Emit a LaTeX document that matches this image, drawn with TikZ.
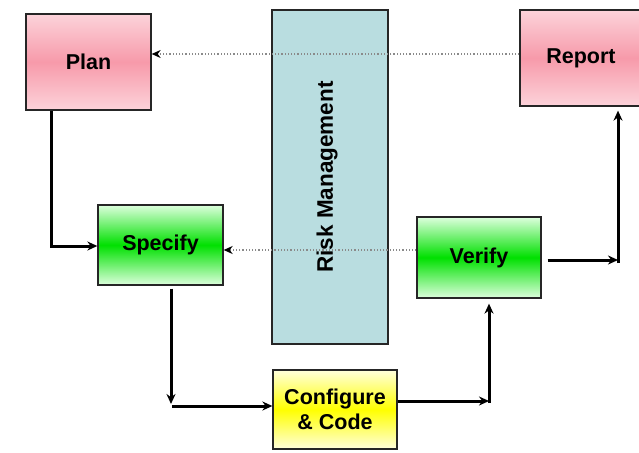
\documentclass[tikz,border=0pt]{standalone}
\usepackage{fontspec}
\setmainfont{Liberation Sans}
\usetikzlibrary{arrows.meta}
\definecolor{pinkedge}{HTML}{FCD3DA}
\definecolor{pinkmid}{HTML}{F79AAA}
\definecolor{greenedge}{HTML}{DDFFDD}
\definecolor{greenmid}{HTML}{00E000}
\definecolor{yellowedge}{HTML}{FFFFDC}
\definecolor{yellowmid}{HTML}{FFFF00}
\definecolor{riskfill}{HTML}{B9DDE0}
\definecolor{dotgrey}{HTML}{8A8A8A}
\tikzset{
  box/.style={draw=black!85, line width=1.3pt, inner sep=0pt, align=center,
    font=\fontsize{21.5}{25}\selectfont\bfseries},
  pinkbox/.style={box, top color=pinkedge, bottom color=pinkedge, middle color=pinkmid},
  greenbox/.style={box, top color=greenedge, bottom color=greenedge, middle color=greenmid},
  yellowbox/.style={box, top color=yellowedge, bottom color=yellowedge, middle color=yellowmid},
  flow/.style={line width=3pt, -{Stealth[length=10pt,width=9pt]}},
  dotline/.style={draw=dotgrey, line width=1.2pt, dotted, -{Stealth[length=9pt,width=8pt,black]}},
}
\begin{document}
\begin{tikzpicture}[x=1pt,y=-1pt]
\useasboundingbox (0,0) rectangle (639,452);
\fill[white] (0,0) rectangle (639,452);
% risk management band
\node[draw=black!85, line width=1.3pt, fill=riskfill, minimum width=116pt, minimum height=334pt, inner sep=0pt] (risk) at (330,177) {};
\node[rotate=90, font=\fontsize{22.5}{26}\selectfont\bfseries] (risklabel) at (327,177) {Risk Management};
% boxes
\node[pinkbox, minimum width=125pt, minimum height=96pt] (plan) at (88.5,62) {Plan};
\node[pinkbox, minimum width=122pt, minimum height=96pt] (report) at (581,58) {Report};
\node[greenbox, minimum width=125pt, minimum height=80pt] (specify) at (160.5,245) {Specify};
\node[greenbox, minimum width=124pt, minimum height=81pt] (verify) at (479,257.5) {Verify};
\node[yellowbox, minimum width=124pt, minimum height=79pt] (configure) at (335,409.5) {Configure\\\& Code};
% corner points
\coordinate (c1) at (171,406);
\coordinate (c2) at (489,401);
\coordinate (c3) at (618,260);
% dotted feedback lines
\draw[dotline] ([yshift=4pt]report.west) -- ([yshift=8pt]plan.east);
\draw[dotline] ([yshift=7.5pt]verify.west) -- ([yshift=-5pt]specify.east);
% flow
\draw[flow] ([xshift=-37.5pt]plan.south) |- ([yshift=-1pt]specify.west);
\draw[flow, shorten <=3pt, shorten >=2pt] ([xshift=10.5pt]specify.south) -- (c1);
\draw[flow] ([xshift=1pt]c1) -- ([yshift=3.5pt]configure.west);
\draw[flow] ([yshift=8.5pt]configure.east) -- (c2);
\draw[flow, shorten >=5pt] ([yshift=-2pt]c2) -- (c2 |- verify.south);
\draw[flow, shorten <=6pt] ([yshift=-2.5pt]verify.east) -- (c3);
\draw[flow, shorten >=4pt] ([yshift=-3pt]c3) -- (c3 |- report.south);
\end{tikzpicture}
\end{document}
